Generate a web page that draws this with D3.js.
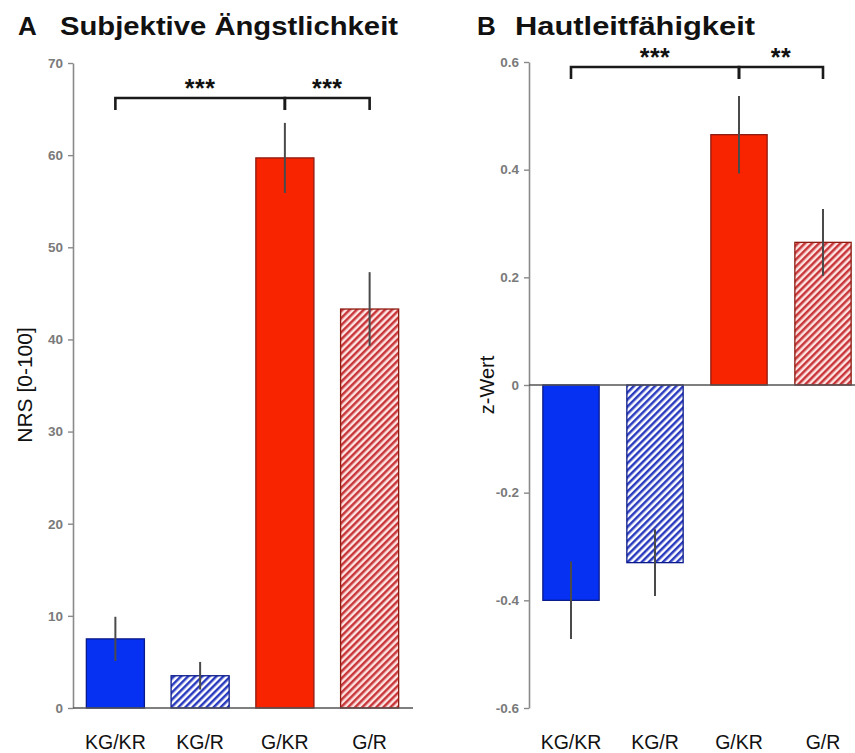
<!DOCTYPE html>
<html>
<head>
<meta charset="utf-8">
<script src="https://cdn.jsdelivr.net/npm/d3@7"></script>
<style>
  body { margin: 0; background: #fff; }
  svg { display: block; font-family: "Liberation Sans", Arial, sans-serif; }
</style>
</head>
<body>
<div id="chart"></div>
<script>
const categories = ["KG/KR", "KG/R", "G/KR", "G/R"];
const hatched = [false, true, false, true];
const groupColor = ["blue", "blue", "red", "red"];

// A: subjektive Ängstlichkeit (NRS 0-100)
const anxietyMean = [7.5, 3.5, 59.7, 43.3];
const anxietyErr = [2.4, 1.5, 3.8, 4.0];
const anxietyTicks = [0, 10, 20, 30, 40, 50, 60, 70];

// B: Hautleitfähigkeit (z-Wert)
const scrMean = [-0.40, -0.33, 0.465, 0.265];
const scrErr = [0.072, 0.062, 0.072, 0.062];
const scrTicks = [-0.6, -0.4, -0.2, 0, 0.2, 0.4, 0.6];

// significance brackets: [from, to, stars]
const anxietySig = [["KG/KR", "G/KR", "***"], ["G/KR", "G/R", "***"]];
const scrSig = [["KG/KR", "G/KR", "***"], ["G/KR", "G/R", "**"]];

const W = 855, H = 753;
const svg = d3.select("#chart").append("svg").attr("width", W).attr("height", H);

const defs = svg.append("defs");
function hatch(id, bg, fg) {
  let p = defs.append("pattern")
    .attr("id", id)
    .attr("patternUnits", "userSpaceOnUse")
    .attr("width", 5)
    .attr("height", 5)
    .attr("patternTransform", "rotate(45)");
  p.append("rect").attr("width", 5).attr("height", 5).attr("fill", bg);
  p.append("rect").attr("width", 2.5).attr("height", 5).attr("fill", fg);
}
hatch("hatch-blue", "#ffffff", "#2a3bbf");
hatch("hatch-red", "#fde3e1", "#c8363a");

const solidFill = { blue: "#0631f2", red: "#f82400" };
const outline = { blue: "#0a1a8a", red: "#8e1a10" };

function panel(opts) {
  let g = svg.append("g");

  let x = d3.scaleBand()
    .domain(categories)
    .range(opts.xRange)
    .paddingInner(opts.pad)
    .paddingOuter(opts.pad / 2);
  let y = d3.scaleLinear().domain(opts.yDomain).range(opts.yRange);
  let axisX = opts.xRange[0];

  // title
  g.append("text")
    .attr("x", opts.titleX)
    .attr("y", 35)
    .attr("font-size", 26)
    .attr("font-weight", "bold")
    .attr("fill", "#111")
    .text(opts.letter);
  g.append("text")
    .attr("x", opts.titleX + opts.wordOffset)
    .attr("y", 35)
    .attr("font-size", 26)
    .attr("font-weight", "bold")
    .attr("fill", "#111")
    .attr("textLength", opts.titleLen)
    .attr("lengthAdjust", "spacingAndGlyphs")
    .text(opts.title);

  // y axis
  let yAxis = g.append("g")
    .attr("transform", `translate(${axisX},0)`)
    .call(d3.axisLeft(y)
      .tickValues(opts.ticks)
      .tickSize(5)
      .tickSizeOuter(0)
      .tickPadding(5)
      .tickFormat((d) => String(d)));
  yAxis.select(".domain").attr("stroke", "#8a8a8a").attr("stroke-width", 1.6);
  yAxis.selectAll(".tick line").attr("stroke", "#8a8a8a").attr("stroke-width", 1.4);
  yAxis.selectAll(".tick text")
    .attr("fill", "#7a7a7a")
    .attr("font-size", 13.5)
    .attr("font-weight", "bold")
    .attr("font-family", "'Liberation Sans', Arial, sans-serif");

  g.append("text")
    .attr("transform", `translate(${opts.labelX},${opts.labelY}) rotate(-90)`)
    .attr("text-anchor", "middle")
    .attr("font-size", opts.labelSize)
    .attr("fill", "#111")
    .text(opts.yLabel);

  // bars
  g.selectAll("rect.bar")
    .data(categories)
    .join("rect")
    .attr("class", "bar")
    .attr("x", (d) => x(d))
    .attr("width", x.bandwidth())
    .attr("y", (d, i) => y(Math.max(0, opts.mean[i])))
    .attr("height", (d, i) => Math.abs(y(opts.mean[i]) - y(0)))
    .attr("fill", (d, i) => hatched[i] ? `url(#hatch-${groupColor[i]})` : solidFill[groupColor[i]])
    .attr("stroke", (d, i) => outline[groupColor[i]])
    .attr("stroke-width", 1.3);

  // zero baseline
  g.append("line")
    .attr("x1", axisX)
    .attr("x2", opts.baseEnd)
    .attr("y1", y(0))
    .attr("y2", y(0))
    .attr("stroke", "#555")
    .attr("stroke-width", 1.6);

  // error bars
  g.selectAll("line.err")
    .data(categories)
    .join("line")
    .attr("class", "err")
    .attr("x1", (d) => x(d) + x.bandwidth() / 2)
    .attr("x2", (d) => x(d) + x.bandwidth() / 2)
    .attr("y1", (d, i) => y(opts.mean[i] - opts.err[i]))
    .attr("y2", (d, i) => y(opts.mean[i] + opts.err[i]))
    .attr("stroke", "#4a4a4a")
    .attr("stroke-width", 2);

  // x labels
  g.selectAll("text.xl")
    .data(categories)
    .join("text")
    .attr("class", "xl")
    .attr("x", (d) => x(d) + x.bandwidth() / 2)
    .attr("y", 749)
    .attr("text-anchor", "middle")
    .attr("font-size", 19.5)
    .attr("fill", "#111")
    .text((d) => d);

  // significance brackets
  let by = opts.bracketY;
  opts.sig.forEach(([a, b, stars]) => {
    let x1 = x(a) + x.bandwidth() / 2;
    let x2 = x(b) + x.bandwidth() / 2;
    g.append("path")
      .attr("d", `M${x1},${by + 12}V${by}H${x2}V${by + 12}`)
      .attr("fill", "none")
      .attr("stroke", "#1a1a1a")
      .attr("stroke-width", 2.6);
    g.append("text")
      .attr("x", (x1 + x2) / 2)
      .attr("y", by - 1)
      .attr("text-anchor", "middle")
      .attr("font-size", 25)
      .attr("font-weight", "bold")
      .attr("letter-spacing", 0.5)
      .attr("fill", "#111")
      .text(stars);
  });
}

panel({
  letter: "A", title: "Subjektive Ängstlichkeit",
  titleX: 18, wordOffset: 42, titleLen: 338,
  xRange: [73, 412], pad: 0.315, baseEnd: 413,
  yDomain: [0, 70], yRange: [708, 63], ticks: anxietyTicks,
  yLabel: "NRS [0-100]", labelX: 32, labelY: 385, labelSize: 21,
  mean: anxietyMean, err: anxietyErr,
  bracketY: 98, sig: anxietySig
});

panel({
  letter: "B", title: "Hautleitfähigkeit",
  titleX: 477, wordOffset: 38, titleLen: 240,
  xRange: [529, 865], pad: 0.33, baseEnd: 855,
  yDomain: [-0.6, 0.6], yRange: [708, 62], ticks: scrTicks,
  yLabel: "z-Wert", labelX: 494, labelY: 385, labelSize: 20,
  mean: scrMean, err: scrErr,
  bracketY: 67, sig: scrSig
});
</script>
</body>
</html>
